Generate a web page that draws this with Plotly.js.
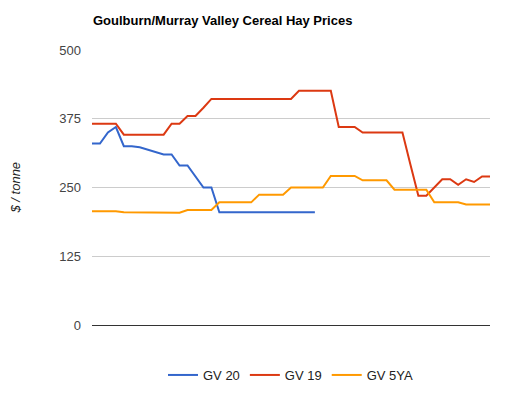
<!DOCTYPE html>
<html>
<head>
<meta charset="utf-8">
<script src="https://cdn.plot.ly/plotly-3.0.1.min.js"></script>
<style>html,body{margin:0;padding:0;background:#fff;}#chart{width:529px;height:397px;}</style>
</head>
<body>
<div id="chart"></div>
<script>
const seriesNames = ["GV 20", "GV 19", "GV 5YA"];
const seriesColors = ["#3366cc", "#dc3912", "#ff9900"];
const gv20 = [330,330,350,360,325,325,323,319,314,310,310,290,290,270,250,250,205,205,205,205,205,205,205,205,205,205,205,205,205];
const gv19 = [366,366,366,366,346,346,346,346,346,346,366,366,380,380,395,411,411,411,411,411,411,411,411,411,411,411,426,426,426,426,426,360,360,360,350,350,350,350,350,350,292,235,235,250,265,265,255,265,260,270,270];
const gv5ya = [207,207,207,207,205,205,205,205,204,204,204,204,209,209,209,209,223,223,223,223,223,237,237,237,237,250,250,250,250,250,271,271,271,271,263,263,263,263,246,246,246,246,246,223,223,223,223,219,219,219,219];
const yTicks = [0,125,250,375,500];

const allSeries = [gv20, gv19, gv5ya];
const traces = allSeries.map((vals, k) => ({
  x: vals.map((_, i) => i),
  y: vals,
  type: "scatter",
  mode: "lines",
  name: seriesNames[k],
  line: {color: seriesColors[k], width: 2},
  hoverinfo: "skip"
}));

const layout = {
  width: 529, height: 397,
  margin: {l: 92, r: 39, t: 50, b: 72, autoexpand: false},
  paper_bgcolor: "#fff", plot_bgcolor: "#fff",
  font: {family: "Liberation Sans, Arial, sans-serif", size: 13, color: "#444"},
  title: {
    text: "<b>Goulburn/Murray Valley Cereal Hay Prices</b>",
    font: {family: "Liberation Sans, Arial, sans-serif", size: 13, color: "#000"},
    x: 93/529, xanchor: "left", xref: "container",
    y: 1 - 20/397, yanchor: "middle", yref: "container"
  },
  xaxis: {range: [0, 50], showgrid: false, zeroline: false, showticklabels: false, showline: false, ticks: ""},
  yaxis: {
    range: [0, 500], tickvals: yTicks, ticktext: yTicks.map(String),
    gridcolor: "#cccccc", gridwidth: 1, automargin: false,
    zeroline: true, zerolinecolor: "#333333", zerolinewidth: 1,
    showline: false, ticks: "", ticklabelstandoff: 10,
    tickfont: {size: 13, color: "#444"}
  },
  annotations: [{
    text: "<i>$ / tonne</i>", xref: "paper", yref: "paper",
    x: -(92 - 15) / 398, y: 0.5, xanchor: "center", yanchor: "middle",
    textangle: -90, showarrow: false, font: {size: 13, color: "#222"}
  }],
  showlegend: true,
  legend: {
    orientation: "h", x: 0.50, xanchor: "center", y: -50/275, yanchor: "middle",
    font: {size: 13, color: "#222"}, itemwidth: 30, traceorder: "normal"
  }
};
Plotly.newPlot("chart", traces, layout, {displayModeBar: false, staticPlot: true});
</script>
</body>
</html>
